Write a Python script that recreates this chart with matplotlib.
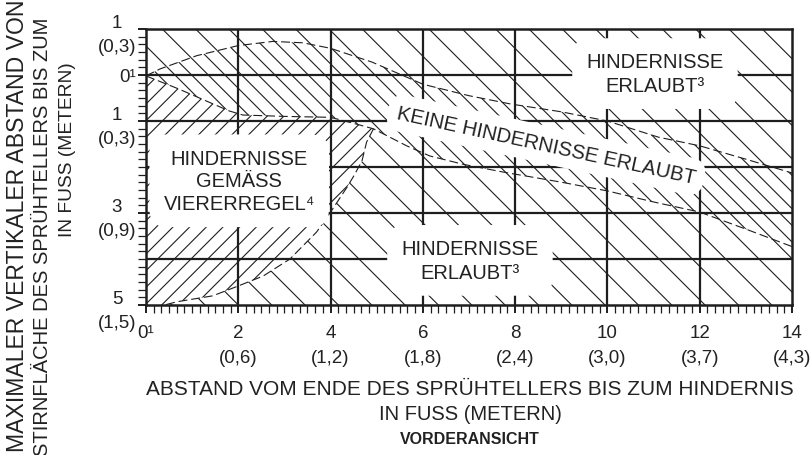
import numpy as np
import matplotlib.pyplot as plt
from matplotlib.patches import Polygon, Rectangle
from matplotlib.ticker import FixedLocator, MultipleLocator

plt.rcParams['font.family'] = ['Liberation Sans', 'DejaVu Sans']
plt.rcParams['hatch.linewidth'] = 0.8

# obere Grenze der Zone "keine Hindernisse" (Fuss)
upper_x = [0, 0.3, 1.1, 2, 2.75, 3.4, 4, 4.9, 6, 7, 7.9, 9, 10, 11.1, 12, 13, 14]
upper_y = [0.02, -0.13, -0.42, -0.64, -0.73, -0.7, -0.58, -0.28, 0.2, 0.45, 0.63, 0.8, 1.0, 1.35, 1.54, 1.83, 2.13]

# untere Grenze der Zone "keine Hindernisse"
lower_x = [0, 0.7, 1.8, 2.1, 3, 4, 4.57, 4.93, 5.65, 6.15, 6.87, 7.74, 9, 10, 11, 12, 13, 14]
lower_y = [0.02, 0.3, 0.78, 0.87, 0.9, 0.92, 1.07, 1.17, 1.54, 1.76, 1.94, 2.11, 2.33, 2.52, 2.76, 2.98, 3.35, 3.73]

# rechte Grenze Viererregel-Bereich
rule_x = [4.93, 4.78, 4.68, 4.5, 4.35, 4.0, 3.7, 3.12, 2.54, 2.04, 1.45, 0.67, 0.4]
rule_y = [1.17, 1.46, 1.87, 2.2, 2.45, 2.98, 3.41, 4.0, 4.37, 4.57, 4.8, 4.93, 5.0]

xticks = [0, 2, 4, 6, 8, 10, 12, 14]
xtick_labels = ['0¹', '2\n(0,6)', '4\n(1,2)', '6\n(1,8)', '8\n(2,4)', '10\n(3,0)', '12\n(3,7)', '14\n(4,3)']
yticks = [-1, 0, 1, 3, 5]
ytick_labels = ['1\n(0,3)', '0¹', '1\n(0,3)', '3\n(0,9)', '5\n(1,5)']

W, H = 812, 456
fig = plt.figure(figsize=(W / 100, H / 100), dpi=100)
ax = fig.add_axes([146 / W, 1 - 306 / H, 646 / W, 276 / H])
ax.set_xlim(0, 14)
ax.set_ylim(5, -1)

ink = '#1e1e1e'

# Hintergrund: Hindernisse erlaubt
ax.add_patch(Rectangle((0, -1), 14, 6, facecolor='white', edgecolor=ink, lw=0, hatch='\\', zorder=0))

# Zone keine Hindernisse
band = list(zip(upper_x, upper_y)) + list(zip(lower_x, lower_y))[::-1]
ax.add_patch(Polygon(band, closed=True, facecolor='white', edgecolor=ink, lw=0, hatch='\\\\', zorder=1))

# Viererregel-Bereich
rule = list(zip(lower_x[:8], lower_y[:8])) + list(zip(rule_x, rule_y)) + [(0, 5)]
ax.add_patch(Polygon(rule, closed=True, facecolor='white', edgecolor=ink, lw=0, hatch='//', zorder=1))

# Raster
for y in range(0, 5):
    ax.axhline(y, color=ink, lw=1.6, zorder=3)
for x in range(2, 14, 2):
    ax.axvline(x, color=ink, lw=1.6, zorder=3)
for s in ax.spines.values():
    s.set_linewidth(1.8)
    s.set_color(ink)
    s.set_zorder(4)

# gestrichelte Grenzen
dash = dict(color=ink, lw=0.8, ls=(0, (8, 3.5)), zorder=4)
ax.plot(upper_x, upper_y, **dash)
ax.plot(lower_x, lower_y, **dash)
ax.plot(rule_x, rule_y, **dash)

# Beschriftungen im Diagramm
box = dict(boxstyle='round,pad=0.7,rounding_size=0.9', facecolor='white', edgecolor='none')
ax.text(11.03, -0.03, 'HINDERNISSE\nERLAUBT³', ha='center', va='center', fontsize=14.5,
        linespacing=1.3, bbox=box, zorder=6, color='#222')
ax.text(2.02, 2.3, 'HINDERNISSE\nGEMÄSS\nVIERERREGEL⁴', ha='center', va='center', fontsize=14.5,
        linespacing=1.25, bbox=box, zorder=6, color='#222')
ax.text(7.02, 4.03, 'HINDERNISSE\nERLAUBT³', ha='center', va='center', fontsize=14.5,
        linespacing=1.3, bbox=box, zorder=6, color='#222')
ax.text(8.67, 1.52, 'KEINE HINDERNISSE ERLAUBT', ha='center', va='center', fontsize=14.7,
        rotation=-12.3, rotation_mode='anchor',
        bbox=dict(boxstyle='round,pad=0.45,rounding_size=0.8', facecolor='white', edgecolor='none'),
        zorder=6, color='#222')

# Achsen
ax.xaxis.set_major_locator(FixedLocator(xticks))
ax.xaxis.set_minor_locator(MultipleLocator(1 / 6))
ax.yaxis.set_major_locator(FixedLocator(yticks))
ax.yaxis.set_minor_locator(MultipleLocator(1 / 6))
ax.set_xticklabels(xtick_labels, fontsize=13.5, color='#222', linespacing=1.6)
ax.set_yticklabels(ytick_labels, fontsize=13.5, color='#222', multialignment='center', linespacing=1.55)
ax.tick_params(which='major', direction='out', length=6, width=1.4, color=ink)
ax.tick_params(which='minor', direction='out', length=5.5, width=0.9, color=ink)
ax.tick_params(axis='x', which='major', pad=7.5)
ax.tick_params(axis='y', which='major', pad=1)


def ftext(x, y, s, **kw):
    fig.text(x / W, 1 - y / H, s, color='#222', **kw)


ftext(470, 390, 'ABSTAND VOM ENDE DES SPRÜHTELLERS BIS ZUM HINDERNIS', ha='center', va='center', fontsize=15)
ftext(470, 414, 'IN FUSS (METERN)', ha='center', va='center', fontsize=14.5)
ftext(470, 440, 'VORDERANSICHT', ha='center', va='center', fontsize=11.5, fontweight='bold')

ftext(18, 452, 'MAXIMALER VERTIKALER ABSTAND VON', rotation=90, ha='center', va='bottom', fontsize=16.6)
ftext(43, 456, 'STIRNFLÄCHE DES SPRÜHTELLERS BIS ZUM', rotation=90, ha='center', va='bottom', fontsize=14.5)
ftext(68, 150, 'IN FUSS (METERN)', rotation=90, ha='center', va='center', fontsize=13.8)

fig.savefig('out.png', dpi=100)
